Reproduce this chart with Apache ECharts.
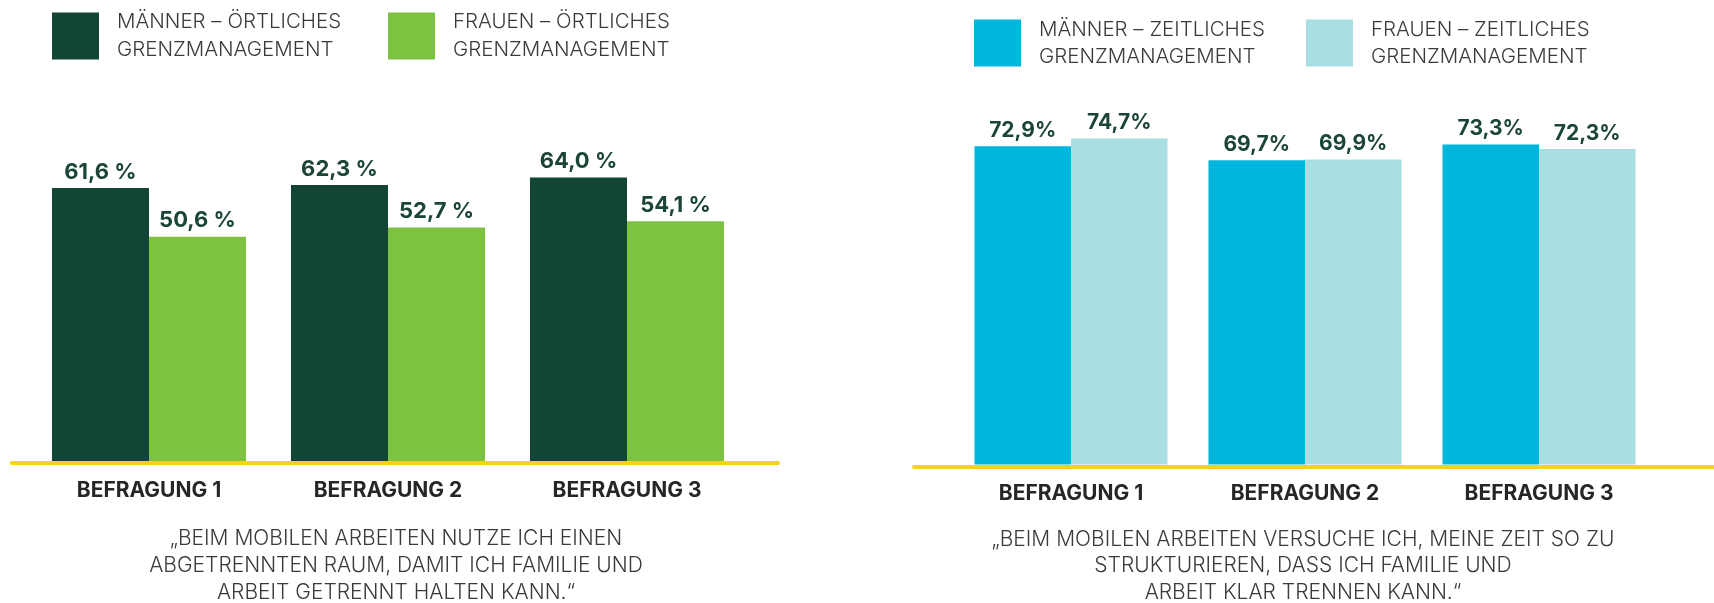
<!DOCTYPE html>
<html>
<head>
<meta charset="utf-8">
<script src="https://cdn.jsdelivr.net/npm/echarts@6/dist/echarts.min.js"></script>
<style>
html,body{margin:0;padding:0;background:#ffffff;}
#chart{width:1714px;height:603px;}
</style>
</head>
<body>
<div id="chart"></div>
<script>
// ---- data ----
const categories = ['BEFRAGUNG 1', 'BEFRAGUNG 2', 'BEFRAGUNG 3'];
const maennerOertlich = [61.6, 62.3, 64.0];
const frauenOertlich = [50.6, 52.7, 54.1];
const maennerZeitlich = [72.9, 69.7, 73.3];
const frauenZeitlich = [74.7, 69.9, 72.3];
const seriesNames = [
  'MÄNNER – ÖRTLICHES\nGRENZMANAGEMENT',
  'FRAUEN – ÖRTLICHES\nGRENZMANAGEMENT',
  'MÄNNER – ZEITLICHES\nGRENZMANAGEMENT',
  'FRAUEN – ZEITLICHES\nGRENZMANAGEMENT'
];
const quoteLeft = '„BEIM MOBILEN ARBEITEN NUTZE ICH EINEN\nABGETRENNTEN RAUM, DAMIT ICH FAMILIE UND\nARBEIT GETRENNT HALTEN KANN.“';
const quoteRight = '„BEIM MOBILEN ARBEITEN VERSUCHE ICH, MEINE ZEIT SO ZU\nSTRUKTURIEREN, DASS ICH FAMILIE UND\nARBEIT KLAR TRENNEN KANN.“';

// ---- styles ----
const FONT = 'Inter, "Open Sans", "Noto Sans", sans-serif';
const C_DARKGREEN = '#134536';
const C_LIGHTGREEN = '#7ec242';
const C_CYAN = '#00b6dc';
const C_LIGHTCYAN = '#abdee3';
const C_YELLOW = '#f5d316';
const C_LABEL = '#1b4538';
const C_TEXT = '#3a3a3a';

function fmtLeft(p) { return p.value.toFixed(1).replace('.', ',') + '\u00A0%'; }
function fmtRight(p) { return p.value.toFixed(1).replace('.', ',') + '%'; }

function legendAt(name, left, top, lh) {
  return {
    data: [name], left: left, top: top, orient: 'horizontal',
    itemWidth: 47, itemHeight: 47, icon: 'rect', selectedMode: false,
    padding: 0,
    textStyle: { fontFamily: FONT, fontWeight: 300, fontSize: 20.5, lineHeight: lh, color: C_TEXT, padding: [0, 0, 0, 13] }
  };
}

const catAxisLabel = { show: true, margin: 19, fontFamily: FONT, fontWeight: 700, fontSize: 21, color: '#262626' };
const valLabel = { show: true, position: 'top', fontFamily: FONT, fontWeight: 700, color: C_LABEL };

const option = {
  backgroundColor: '#ffffff',
  animation: false,
  legend: [
    legendAt(seriesNames[0], 52, 8, 28),
    legendAt(seriesNames[1], 388, 8, 28),
    legendAt(seriesNames[2], 974, 16, 27),
    legendAt(seriesNames[3], 1306, 16, 27)
  ],
  title: [
    { text: quoteLeft, left: 396, top: 525.5, textAlign: 'center', padding: 0,
      textStyle: { fontFamily: FONT, fontWeight: 300, fontSize: 21, lineHeight: 26.7, color: C_TEXT } },
    { text: quoteRight, left: 1303, top: 526, textAlign: 'center', padding: 0,
      textStyle: { fontFamily: FONT, fontWeight: 300, fontSize: 21, lineHeight: 26.7, color: C_TEXT } }
  ],
  grid: [
    { left: 29.5, width: 717, top: 18, bottom: 142 },
    { left: 954, width: 702, top: 28, bottom: 138.5 },
    { left: 12, width: 766, top: 300, bottom: 140 },
    { left: 914, right: 0, top: 300, bottom: 136.5 }
  ],
  xAxis: [
    { gridIndex: 0, type: 'category', data: categories, axisLine: { show: false }, axisTick: { show: false }, axisLabel: catAxisLabel },
    { gridIndex: 1, type: 'category', data: categories, axisLine: { show: false }, axisTick: { show: false }, axisLabel: catAxisLabel },
    { gridIndex: 2, type: 'category', data: [''], axisLine: { show: true, lineStyle: { color: C_YELLOW, width: 4 } }, axisTick: { show: false }, axisLabel: { show: false } },
    { gridIndex: 3, type: 'category', data: [''], axisLine: { show: true, lineStyle: { color: C_YELLOW, width: 4 } }, axisTick: { show: false }, axisLabel: { show: false } }
  ],
  yAxis: [
    { gridIndex: 0, type: 'value', min: 0, max: 100, show: false },
    { gridIndex: 1, type: 'value', min: 0, max: 100, show: false },
    { gridIndex: 2, type: 'value', min: 0, max: 1, show: false },
    { gridIndex: 3, type: 'value', min: 0, max: 1, show: false }
  ],
  series: [
    { name: seriesNames[0], type: 'bar', xAxisIndex: 0, yAxisIndex: 0, data: maennerOertlich,
      barGap: '0%', barCategoryGap: '18.8%', itemStyle: { color: C_DARKGREEN },
      label: Object.assign({}, valLabel, { fontSize: 22, distance: 5, formatter: fmtLeft }) },
    { name: seriesNames[1], type: 'bar', xAxisIndex: 0, yAxisIndex: 0, data: frauenOertlich,
      barGap: '0%', barCategoryGap: '18.8%', itemStyle: { color: C_LIGHTGREEN },
      label: Object.assign({}, valLabel, { fontSize: 22, distance: 5, formatter: fmtLeft }) },
    { name: seriesNames[2], type: 'bar', xAxisIndex: 1, yAxisIndex: 1, data: maennerZeitlich,
      barGap: '0%', barCategoryGap: '17.5%', itemStyle: { color: C_CYAN },
      label: Object.assign({}, valLabel, { fontSize: 21, distance: 5, formatter: fmtRight }) },
    { name: seriesNames[3], type: 'bar', xAxisIndex: 1, yAxisIndex: 1, data: frauenZeitlich,
      barGap: '0%', barCategoryGap: '17.5%', itemStyle: { color: C_LIGHTCYAN },
      label: Object.assign({}, valLabel, { fontSize: 21, distance: 5, formatter: fmtRight }) }
  ]
};

const chart = echarts.init(document.getElementById('chart'), null, { renderer: 'canvas' });
chart.setOption(option);
</script>
</body>
</html>
